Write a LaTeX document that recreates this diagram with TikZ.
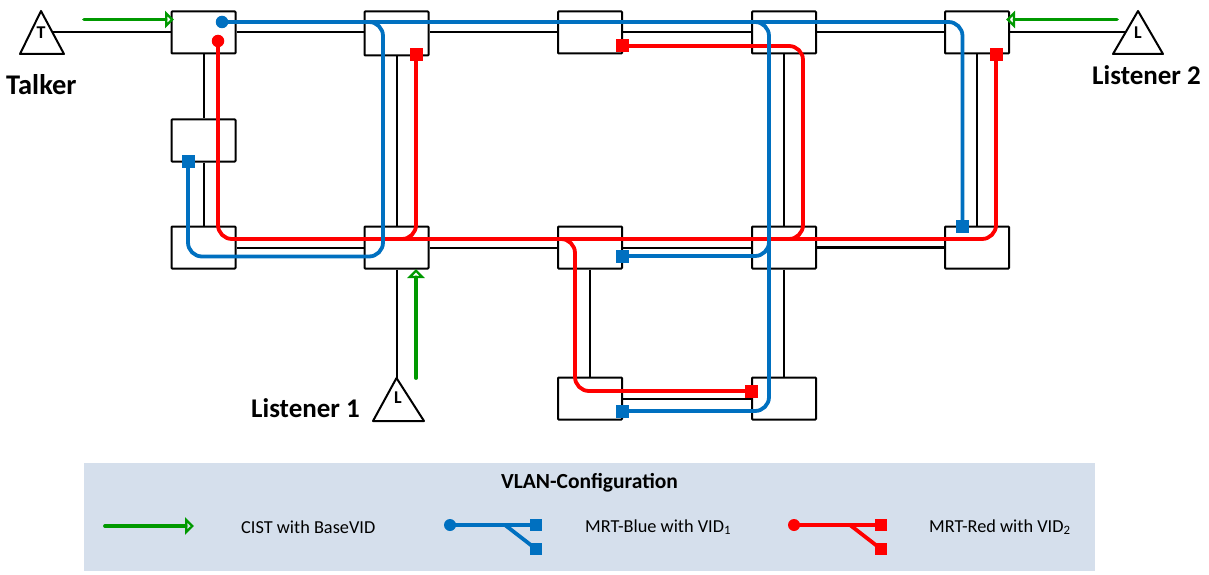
\documentclass[tikz,border=0pt]{standalone}
\usepackage{fontspec}
\setmainfont{Carlito}
\usetikzlibrary{arrows.meta}
\definecolor{mblue}{HTML}{0070C0}
\definecolor{mgreen}{HTML}{009900}
\definecolor{mfill}{HTML}{D5DFEC}
\tikzset{
  bridge/.style={draw=black,line width=2pt,fill=white,rounded corners=0.8pt,minimum width=64pt,minimum height=42pt,inner sep=0pt},
  link/.style={draw=black,line width=2pt},
  bluepath/.style={draw=mblue,line width=3.8pt,rounded corners=14pt},
  redpath/.style={draw=red,line width=3.8pt,rounded corners=14pt},
  cist/.style={draw=mgreen,line width=3.8pt,line cap=round,-{Triangle[open,length=9pt,width=17pt,line width=3.6pt]}},
  bsq/.style={fill=mblue,minimum size=13pt,inner sep=0pt},
  rsq/.style={fill=red,minimum size=13pt,inner sep=0pt},
  bdot/.style={circle,fill=mblue,minimum size=12.5pt,inner sep=0pt},
  rdot/.style={circle,fill=red,minimum size=12.5pt,inner sep=0pt},
  bigl/.style={font=\bfseries\fontsize{27}{29}\selectfont,inner sep=0pt},
  stl/.style={font=\bfseries\fontsize{18}{20}\selectfont,inner sep=0pt},
  legt/.style={font=\fontsize{18.3}{20}\selectfont,inner sep=0pt,anchor=west},
}
\begin{document}
\begin{tikzpicture}[x=1pt,y=-1pt]
\useasboundingbox (0,0) rectangle (1209,575);
% legend panel
\node[fill=mfill,minimum width=1011pt,minimum height=108pt,inner sep=0pt] (panel) at (589.5,517) {};
\node[font=\bfseries\fontsize{21.5}{24}\selectfont,inner sep=0pt] (ltitle) at (589.5,482.5) {VLAN-Configuration};
% bridges
\node[bridge] (a1) at (203.5,32.5) {};
\node[bridge,minimum height=44pt] (a2) at (396.5,33.5) {};
\node[bridge] (a3) at (590,32.5) {};
\node[bridge] (a4) at (784,32.5) {};
\node[bridge] (a5) at (977,32.5) {};
\node[bridge] (m1) at (203.5,140.5) {};
\node[bridge] (b1) at (203.5,247.5) {};
\node[bridge] (b2) at (396.5,247.5) {};
\node[bridge] (b3) at (590,247.5) {};
\node[bridge] (b4) at (784,247.5) {};
\node[bridge] (b5) at (977,247.5) {};
\node[bridge] (c3) at (590,398.5) {};
\node[bridge] (c4) at (784,398.5) {};
% stations
\coordinate (tA) at (41,11); \coordinate (tB) at (20,54); \coordinate (tC) at (64,54);
\draw[link,line join=round] (tA) -- (tB) -- (tC) -- cycle;
\coordinate (l1A) at (396.5,378); \coordinate (l1B) at (373,421); \coordinate (l1C) at (424,421);
\draw[link,line join=round] (l1A) -- (l1B) -- (l1C) -- cycle;
\coordinate (l2A) at (1138,11); \coordinate (l2B) at (1113,54); \coordinate (l2C) at (1163,54);
\draw[link,line join=round] (l2A) -- (l2B) -- (l2C) -- cycle;
\node[stl] (tl) at (41,33) {T};
\node[stl] (l1l) at (398,398) {L};
\node[stl] (l2l) at (1138,33) {L};
\node[bigl,anchor=west,font=\bfseries\fontsize{28.5}{30}\selectfont] (talker) at (6,85) {Talker};
\node[bigl,anchor=west] (lis1) at (251,408) {Listener 1};
\node[bigl,anchor=west] (lis2) at (1092,75) {Listener 2};
% links
\coordinate (tp) at (53,32.5);
\coordinate (lp) at (1125,32.5);
\draw[link] (tp) -- (tp -| a1.west);
\draw[link] (a1.east) -- (a1.east -| a2.west);
\draw[link] (a2.east |- a1.east) -- (a3.west);
\draw[link] (a3.east) -- (a4.west);
\draw[link] (a4.east) -- (a5.west);
\draw[link] (a5.east) -- (a5.east -| lp);
\draw[link] (a1.south) -- (m1.north);
\draw[link] (m1.south) -- (b1.north);
\draw[link] (a2.south) -- (b2.north);
\draw[link] (a4.south) -- (b4.north);
\draw[link] (a5.south) -- (b5.north);
\draw[link] (b1.east) -- (b2.west);
\draw[link] (b2.east) -- (b3.west);
\draw[link] (b3.east) -- (b4.west);
\draw[link,line width=2.5pt] (b4.east) -- (b5.west);
\draw[link] (b3.south) -- (c3.north);
\draw[link] (b4.south) -- (c4.north);
\draw[link] (c3.east) -- (c4.west);
\draw[link] (b2.south) -- (l1A);
% green arrows
\coordinate (g1s) at (84,19.5); \coordinate (g1e) at (174,19.5);
\coordinate (g2s) at (1117,19.5); \coordinate (g2e) at (1006,19.5);
\coordinate (g3s) at (416,378); \coordinate (g3e) at (416,269);
\draw[cist] (g1s) -- (g1e);
\draw[cist] (g2s) -- (g2e);
\draw[cist] (g3s) -- (g3e);
% endpoints
\node[bdot] (bd) at (222,22) {};
\node[rdot] (rd) at (218,41) {};
\node[bsq] (bs1) at (188,161) {};
\node[bsq] (bs2) at (962.5,226) {};
\node[bsq] (bs3) at (622,256) {};
\node[bsq] (bs4) at (622,411) {};
\node[rsq] (rs1) at (416,55) {};
\node[rsq] (rs2) at (996,55) {};
\node[rsq] (rs3) at (622,46) {};
\node[rsq] (rs4) at (751.5,391) {};
% MRT-Red
\coordinate (rc1) at (218,239); \coordinate (rc2) at (416,239); \coordinate (rc3) at (803,239);
\coordinate (rc4) at (803,46); \coordinate (rc5) at (996,239);
\coordinate (rc6) at (575,239); \coordinate (rc7) at (575,391);
\draw[redpath] (rd.center) -- (rc1) -- (rc5) -- (rs2.center);
\draw[redpath] (rc1) ++(60,0) -- (rc2) -- (rs1.center);
\draw[redpath] (rc2) -- (rc3) -- (rc4) -- (rs3.center);
\draw[redpath] (rc2) -- (rc6) -- (rc7) -- (rs4.center);
% MRT-Blue
\coordinate (bc1) at (383,22); \coordinate (bc2) at (383,256.5); \coordinate (bc3) at (188,256.5);
\coordinate (bc4) at (769,22); \coordinate (bc5) at (769,256); \coordinate (bc6) at (769,411);
\coordinate (bc7) at (962.5,22);
\draw[bluepath] (bd.center) -- (bc7) -- (bs2.center);
\draw[bluepath] (bd.center) -- (bc1) -- (bc2) -- (bc3) -- (bs1.center);
\draw[bluepath] (bc1) -- (bc4) -- (bc6) -- (bs4.center);
\draw[bluepath] (bc4) ++(0,100) -- (bc5) -- (bs3.center);
% legend
\coordinate (lg1) at (105,526); \coordinate (lg2) at (194,526);
\draw[cist] (lg1) -- (lg2);
\node[legt] (lt1) at (241,527) {CIST with BaseVID};
\node[bdot,minimum size=12pt] (lbd) at (450,525) {};
\node[bsq,minimum size=12.5pt] (lbs1) at (536,525) {};
\node[bsq,minimum size=12.5pt] (lbs2) at (536,549) {};
\coordinate (lbj) at (505,525);
\draw[draw=mblue,line width=3.8pt] (lbd.center) -- (lbs1.center);
\draw[draw=mblue,line width=3.8pt] (lbj) -- (lbs2.center);
\node[legt] (lt2) at (585,527) {MRT-Blue with VID\textsubscript{1}};
\node[rdot,minimum size=12pt] (lrd) at (794,525) {};
\node[rsq,minimum size=12.5pt] (lrs1) at (881,525) {};
\node[rsq,minimum size=12.5pt] (lrs2) at (881,549) {};
\coordinate (lrj) at (850,525);
\draw[draw=red,line width=3.8pt] (lrd.center) -- (lrs1.center);
\draw[draw=red,line width=3.8pt] (lrj) -- (lrs2.center);
\node[legt] (lt3) at (929,527) {MRT-Red with VID\textsubscript{2}};
\end{tikzpicture}
\end{document}
